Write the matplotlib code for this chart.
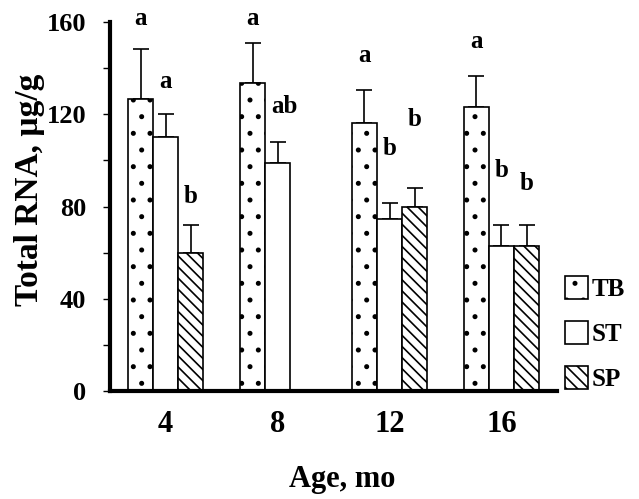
import numpy as np
import matplotlib.pyplot as plt
from matplotlib.patches import Patch
from matplotlib.ticker import MultipleLocator

plt.rc('font', family='Liberation Serif', weight='bold', size=17)
plt.rc('axes', labelweight='bold')
plt.rc('hatch', linewidth=1.2)

# data
ages = ['4', '8', '12', '16']
groups = ['TB', 'ST', 'SP']
tb = [126.5, 133.5, 116.0, 123.0]
st = [110.0, 99.0, 74.5, 63.0]
sp = [60.0, np.nan, 80.0, 63.0]
tb_err = [22.0, 17.5, 14.5, 13.5]
st_err = [10.0, 9.0, 7.0, 9.0]
sp_err = [12.0, np.nan, 8.0, 9.0]

# significance letters and the height of their baselines
tb_sig = ['a', 'a', 'a', 'a']
st_sig = ['a', 'ab', 'b', 'b']
sp_sig = ['b', '', 'b', 'b']
tb_sig_y = [158.7, 158.7, 142.7, 148.7]
st_sig_y = [131.4, 120.5, 102.3, 92.8]
sp_sig_y = [81.5, np.nan, 115.0, 87.2]

# plot
fig = plt.figure(figsize=(6.39, 4.99), dpi=100)
ax = fig.add_axes([110/639, 108/499, 447/639, 369/499])

x = np.arange(len(ages))
w = 0.224
hatches = ['.', '', '\\\\\\']
series = [(tb, tb_err, tb_sig, tb_sig_y),
          (st, st_err, st_sig, st_sig_y),
          (sp, sp_err, sp_sig, sp_sig_y)]

for k, (vals, errs, sig, sig_y) in enumerate(series):
    xs = x + (k - 1)*w
    vals = np.array(vals)
    ok = ~np.isnan(vals)
    ax.bar(xs[ok], vals[ok], w, color='white', edgecolor='black',
           linewidth=1.2, hatch=hatches[k], zorder=2)
    errs = np.array(errs)
    ax.errorbar(xs[ok], vals[ok], yerr=[np.zeros(ok.sum()), errs[ok]],
                fmt='none', ecolor='black', elinewidth=1.2, capsize=5.5,
                capthick=1.2, zorder=1)
    for xi, s, yi in zip(xs, sig, sig_y):
        if s:
            # two-letter labels sit a little right of the bar
            ax.text(xi + (0.06 if len(s) > 1 else 0), yi, s, ha='center',
                    va='baseline', fontsize=18)

ax.set_xlim(-0.497, 3.496)
ax.set_ylim(0, 160)
ax.set_xticks(x)
ax.set_xticklabels(ages, fontsize=22)
ax.yaxis.set_major_locator(MultipleLocator(40))
ax.yaxis.set_minor_locator(MultipleLocator(20))

ax.spines['top'].set_visible(False)
ax.spines['right'].set_visible(False)
ax.spines['left'].set_linewidth(3)
ax.spines['bottom'].set_linewidth(3)
ax.tick_params(axis='x', length=0, pad=14)
ax.tick_params(axis='y', which='both', length=5, width=1, pad=12,
               labelsize=19)

ax.set_xlabel('Age, mo', fontsize=22)
ax.xaxis.set_label_coords(0.519, -0.2)
ax.set_ylabel('Total RNA, µg/g', fontsize=24)
ax.yaxis.set_label_coords(-0.145, 0.545)

handles = [Patch(facecolor='white', edgecolor='black', linewidth=1.2,
                 hatch=h) for h in hatches]
ax.legend(handles, groups, loc='lower left', frameon=False, fontsize=18,
          bbox_to_anchor=(565/639, 108/499), bbox_transform=fig.transFigure,
          borderpad=0, borderaxespad=0, handlelength=0.9, handleheight=1.05,
          handletextpad=0.15, labelspacing=0.8)

fig.savefig('out.png', dpi=100)
